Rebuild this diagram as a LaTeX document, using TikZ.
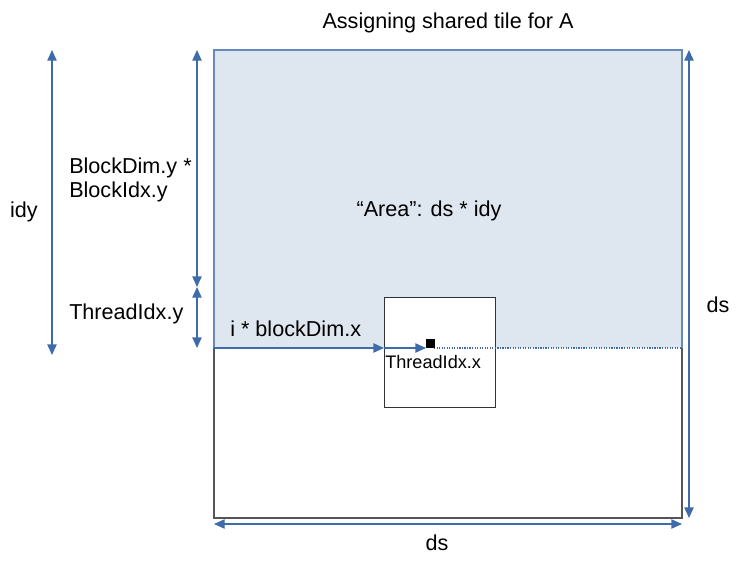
\documentclass[tikz,border=0pt]{standalone}
\usepackage{fontspec}
\setmainfont{Liberation Sans}
\usetikzlibrary{arrows.meta}
\definecolor{dimblue}{HTML}{3F6BAA}
\definecolor{areafill}{HTML}{DEE6EF}
\definecolor{framegray}{HTML}{555555}
\tikzset{
  dimarrow/.style={draw=dimblue, line width=1pt, {Triangle[length=8pt,width=7pt]}-{Triangle[length=8pt,width=7pt]}},
  onearrow/.style={draw=dimblue, line width=1pt, -{Triangle[length=8pt,width=7pt]}},
  lbl/.style={font=\fontsize{16.2}{18.5}\selectfont, inner sep=0pt},
  smalllbl/.style={font=\fontsize{13.6}{15}\selectfont, inner sep=0pt}
}
\begin{document}
\begin{tikzpicture}[x=0.75pt,y=-0.75pt]
\useasboundingbox (0,0) rectangle (752,562);
% shaded area
\fill[areafill] (214,50) rectangle (682,348);
\draw[framegray, line width=0.9pt] (214,348) -- (214,518) -- (682,518) -- (682,348);
\draw[dimblue!80, line width=0.9pt] (214,348) -- (214,50) -- (682,50) -- (682,348);
% inner box
\node[draw=black!80, fill=white, line width=0.9pt, minimum width=111*0.75pt, minimum height=110*0.75pt, inner sep=0pt, anchor=north west] (tile) at (384,297) {};
% dotted line
\coordinate (dotstart) at (434,348);
\coordinate (dotend) at (682,348);
\draw[dimblue, densely dotted, line width=0.9pt] (dotstart) -- (dotend);
% arrows along row
\coordinate (rowstart) at (214,348);
\coordinate (tilewest) at (384,348);
\coordinate (thrpt) at (426,348);
\draw[onearrow] (rowstart) -- (tilewest);
\draw[onearrow] (tilewest) -- (thrpt);
\node[fill=black, minimum size=9*0.75pt, inner sep=0pt] (thread) at (430.5,343.5) {};
% left dimension arrows
\coordinate (idytop) at (52,50);
\coordinate (idybot) at (52,355);
\draw[dimarrow] (idytop) -- (idybot);
\coordinate (bdtop) at (197,50);
\coordinate (bdbot) at (197,287);
\coordinate (tybot) at (197,348);
\draw[dimarrow] (bdtop) -- (bdbot);
\draw[dimarrow] (bdbot) -- (tybot);
% right and bottom
\coordinate (rtop) at (689,50);
\coordinate (rbot) at (689,518);
\draw[dimarrow] (rtop) -- (rbot);
\coordinate (bl) at (214,524);
\coordinate (br) at (682,524);
\draw[dimarrow] (bl) -- (br);
% labels
\node[lbl] (title) at (448,23) {Assigning shared tile for A};
\node[lbl] (area) at (429,211) {“Area”: ds * idy};
\node[lbl] (idy) at (24,212) {idy};
\node[lbl, anchor=west, align=left] (bd) at (69,180) {BlockDim.y *\\BlockIdx.y};
\node[lbl, anchor=west] (ty) at (69,314) {ThreadIdx.y};
\node[lbl, anchor=west] (ib) at (230,329) {i * blockDim.x};
\node[smalllbl, anchor=west] (tx) at (385,362) {ThreadIdx.x};
\node[lbl] (dsr) at (718,305) {ds};
\node[lbl] (dsb) at (437,543) {ds};
\end{tikzpicture}
\end{document}
